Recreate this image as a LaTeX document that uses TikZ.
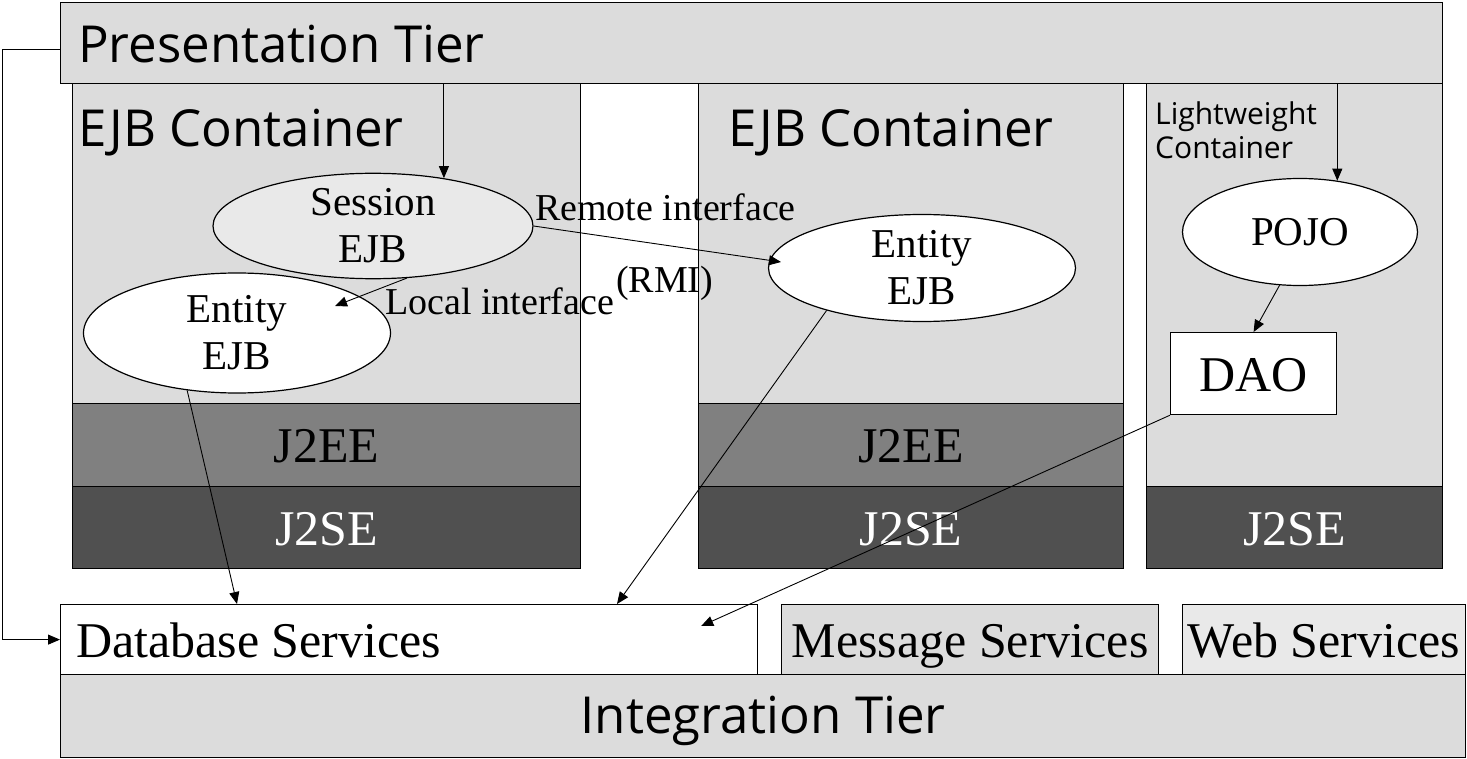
\documentclass[tikz,border=0pt]{standalone}
\usepackage{fontspec}
\setmainfont{Liberation Serif}
\setsansfont{Open Sans}
\usepackage{xcolor}
\usetikzlibrary{arrows.meta,shapes.geometric}
\definecolor{GrisClaro}{RGB}{220,220,220}
\definecolor{GrisPalido}{RGB}{233,233,233}
\definecolor{GrisMedio}{RGB}{128,128,128}
\definecolor{GrisOscuro}{RGB}{80,80,80}

\begin{document}
\begin{tikzpicture}[x=1pt,y=-1pt,>={Triangle[length=12pt,width=10pt]},
  caja/.style={draw,line width=1.2pt,anchor=north west,inner sep=0pt,
    text height=35pt,text depth=0pt,font=\fontsize{50}{56}\selectfont},
  elipse/.style={draw,ellipse,line width=1.2pt,inner sep=0pt,align=center,
    font=\fontsize{41}{48}\selectfont},
  sanstxt/.style={anchor=base west,inner sep=0pt,font=\sffamily\fontsize{51}{58}\selectfont},
  serifTxt/.style={anchor=base west,inner sep=0pt,font=\fontsize{38}{44}\selectfont},
  flecha/.style={->,line width=0.9pt}]
  \useasboundingbox (0,0) rectangle (1467,759);
  % contenedores
  \node[caja,fill=GrisClaro,minimum width=508pt,minimum height=320pt] (ejbA) at (72,83) {};
  \node[caja,fill=GrisMedio,minimum width=508pt,minimum height=83pt] (j2eeA) at (72,403) {J2EE};
  \node[caja,fill=GrisOscuro,text=white,minimum width=508pt,minimum height=82pt] (j2seA) at (72,486) {J2SE};
  \node[caja,fill=GrisClaro,minimum width=425pt,minimum height=320pt] (ejbB) at (698,83) {};
  \node[caja,fill=GrisMedio,minimum width=425pt,minimum height=83pt] (j2eeB) at (698,403) {J2EE};
  \node[caja,fill=GrisOscuro,text=white,minimum width=425pt,minimum height=82pt] (j2seB) at (698,486) {J2SE};
  \node[caja,fill=GrisClaro,minimum width=296pt,minimum height=403pt] (ligero) at (1146,83) {};
  \node[caja,fill=GrisOscuro,text=white,minimum width=296pt,minimum height=82pt] (j2seC) at (1146,486) {J2SE};
  \node[caja,fill=GrisClaro,minimum width=1382pt,minimum height=81pt] (pres) at (60,2) {};
  \node[sanstxt] (presTxt) at (78,63) {Presentation Tier};
  \node[sanstxt] (ejbATxt) at (78,147) {EJB Container};
  \node[sanstxt] (ejbBTxt) at (728,147) {EJB Container};
  \node[anchor=north west,inner sep=0pt,align=left,font=\sffamily\fontsize{30}{34}\selectfont]
    (ligeroTxt) at (1155,102) {Lightweight\\Container};
  % servicios
  \node[caja,fill=white,minimum width=697pt,minimum height=70pt] (db) at (60,604) {};
  \node[anchor=base west,inner sep=0pt,font=\fontsize{50}{56}\selectfont] (dbTxt) at (76,657) {Database Services};
  \node[caja,fill=GrisClaro,minimum width=377pt,minimum height=70pt] (msg) at (781,604) {Message Services};
  \node[caja,fill=GrisPalido,minimum width=283pt,minimum height=70pt] (web) at (1182,604) {Web Services};
  \node[caja,fill=GrisClaro,font=\sffamily\fontsize{51}{58}\selectfont,
    minimum width=1405pt,minimum height=83pt] (integ) at (60,674) {Integration Tier};
  % componentes
  \node[elipse,fill=GrisPalido,minimum width=320pt,minimum height=94pt] (session) at (373,226) {Session\\[-1pt]EJB};
  \node[elipse,fill=white,minimum width=307pt,minimum height=120pt] (entA) at (237,333) {Entity\\[-1pt]EJB};
  \node[elipse,fill=white,minimum width=307pt,minimum height=107pt] (entB) at (922,268) {Entity\\[-1pt]EJB};
  \node[elipse,fill=white,minimum width=235pt,minimum height=107pt] (pojo) at (1300,232) {POJO};
  \node[caja,fill=white,minimum width=166pt,minimum height=82pt] (dao) at (1170,332) {DAO};
  % etiquetas
  \node[serifTxt] (remoteTxt) at (535,221) {Remote interface};
  \node[serifTxt] (rmiTxt) at (616,293) {(RMI)};
  \node[serifTxt] (localTxt) at (385,315) {Local interface};
  % flechas
  \draw[flecha] ([yshift=-6pt]pres.west) -- ++(-58,0) |- (db.west);
  \draw[flecha] (session.34 |- pres.south) -- (session.34);
  \draw[flecha] (pojo.54 |- pres.south) -- (pojo.54);
  \draw[flecha] (session.303) -- ([shift={(98pt,27pt)}]entA.center);
  \draw[flecha] (session.east) -- ([shift={(-141pt,6pt)}]entB.center);
  \draw[flecha] (entA.229) -- (entA.south |- db.north);
  \draw[flecha] (entB.204) -- ([xshift=557pt]db.north west);
  \draw[flecha] (dao.south west) -- ([shift={(-57pt,-22pt)}]db.north east);
  \draw[flecha] (pojo.249) -- (dao.north);
\end{tikzpicture}
\end{document}
